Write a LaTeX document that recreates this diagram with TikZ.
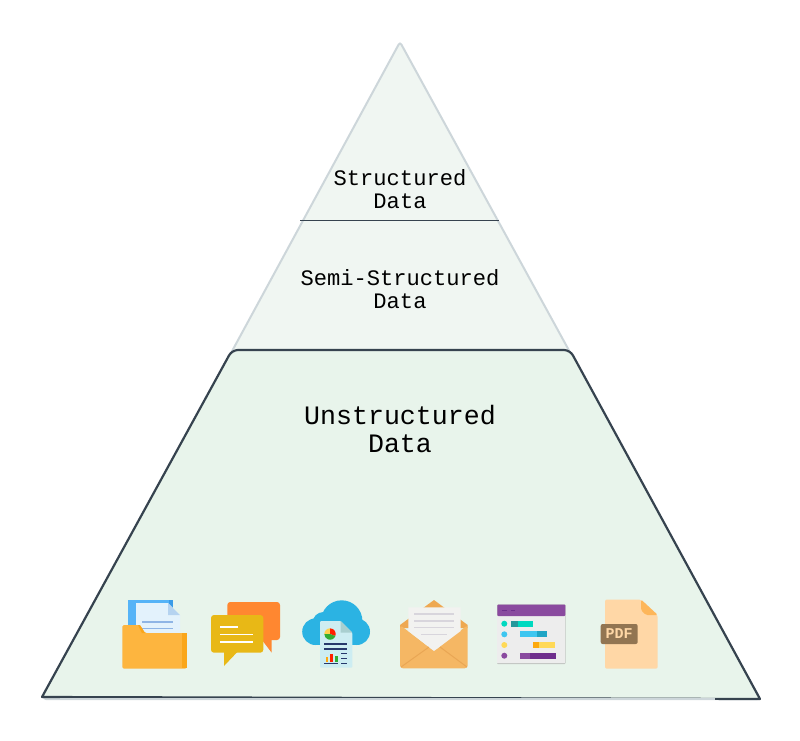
\documentclass[tikz,border=0pt]{standalone}
\usepackage{fontspec}
\setmonofont{Liberation Mono}
\definecolor{upperfill}{HTML}{F0F6F2}
\definecolor{upperline}{HTML}{CDD6DA}
\definecolor{lowerfill}{HTML}{E8F4EB}
\definecolor{lowerline}{HTML}{36434F}
\definecolor{folderblue}{HTML}{55B3F7}
\definecolor{folderedge}{HTML}{3A9BE8}
\definecolor{folderpage}{HTML}{E3F2FC}
\definecolor{foldercrease}{HTML}{B5D3F0}
\definecolor{folderline}{HTML}{8FB5E5}
\definecolor{folderfront}{HTML}{FDB53F}
\definecolor{folderdark}{HTML}{FAA61A}
\definecolor{chatorange}{HTML}{FF8730}
\definecolor{chatyellow}{HTML}{E8B816}
\definecolor{cloudblue}{HTML}{2BB3E3}
\definecolor{reportpage}{HTML}{CDEDF2}
\definecolor{reportfold}{HTML}{A9CFD0}
\definecolor{reportnavy}{HTML}{26386B}
\definecolor{mailbody}{HTML}{F5B764}
\definecolor{mailback}{HTML}{EEA851}
\definecolor{mailcrease}{HTML}{E9A654}
\definecolor{mailpage}{HTML}{F2F2F0}
\definecolor{mailline}{HTML}{D8D5DC}
\definecolor{ganttgrey}{HTML}{EDEDED}
\definecolor{ganttedge}{HTML}{C4C7C4}
\definecolor{ganttpurple}{HTML}{8A4A9F}
\definecolor{ganttplum}{HTML}{6E2E8C}
\definecolor{ganttteal}{HTML}{00D9C0}
\definecolor{ganttsea}{HTML}{25989B}
\definecolor{gantsky}{HTML}{3EC6F0}
\definecolor{ganttblue}{HTML}{20A5C5}
\definecolor{ganttsun}{HTML}{FFD957}
\definecolor{ganttamber}{HTML}{FDA90D}
\definecolor{pdfpage}{HTML}{FFD7A6}
\definecolor{pdffold}{HTML}{FDB65A}
\definecolor{pdfbadge}{HTML}{927552}
\tikzstyle{tiersmall}=[inner sep=0, align=center, font=\ttfamily\fontsize{22.1}{23.5}\selectfont]
\tikzstyle{tierlarge}=[inner sep=0, align=center, font=\ttfamily\fontsize{26.6}{27.5}\selectfont]
\tikzstyle{upperedge}=[draw=upperline, fill=upperfill, line width=2pt, rounded corners=3pt]
\tikzstyle{loweredge}=[draw=lowerline, fill=lowerfill, line width=2.2pt, line join=round]
\begin{document}
\begin{tikzpicture}[x=1pt, y=-1pt]
	\useasboundingbox (0, 0) rectangle (800, 740);
	\begin{scope}
		\coordinate (apex) at (400, 42);
		\coordinate (baseleft) at (43, 699);
		\coordinate (baseright) at (760, 699);
		\coordinate (midleft) at (300, 220);
		\coordinate (midright) at (499, 220);
		\coordinate (topleft) at (232, 350);
		\coordinate (topright) at (570, 350);
	\end{scope}
	\begin{scope}
		\path [upperedge] (baseleft) -- (apex) -- (baseright) -- cycle;
		\path [loweredge] (42, 697) [rounded corners=6pt] -- (topleft) -- (topright) [sharp corners] -- (760, 699) -- cycle;
		\path [draw=lowerline, line width=1pt] (midleft) -- (midright);
		\draw [upperline, line width=1.5pt] (60, 699) -- (715, 699);
		\draw [lowerline, line width=2pt] (715, 699) -- (760, 699);
	\end{scope}
	\begin{scope}
		\node (structured) at (400, 189)[tiersmall] {Structured\\Data};
		\node (semi) at (400, 289)[tiersmall] {Semi-Structured\\Data};
		\node (unstructured) at (400, 429)[tierlarge] {Unstructured\\Data};
	\end{scope}
	% folder
	\begin{scope}
		\fill [folderblue] (128, 600) rectangle (173, 628);
		\fill [folderedge] (169, 600) rectangle (173, 628);
		\fill [folderpage] (136, 603) -- (168, 603) -- (180, 615) -- (180, 634) -- (136, 634) -- cycle;
		\fill [foldercrease] (168, 603) -- (180, 615) -- (168, 615) -- cycle;
		\foreach \y in {621.7, 628.3} \fill [folderline] (142, \y-0.8) rectangle (173, \y+0.8);
		\fill [folderfront, rounded corners=1.5pt] (122.3, 625) -- (140, 625) -- (145, 633) -- (186.7, 633) -- (186.7, 668.7) -- (122.3, 668.7) -- cycle;
		\fill [folderdark] (181.7, 633) rectangle (186.7, 668);
		\fill [folderdark] (138, 625) -- (140, 625) -- (145, 633) -- (142, 633) -- cycle;
	\end{scope}
	% speech bubbles
	\begin{scope}
		\fill [chatorange, rounded corners=3pt] (227.3, 602) rectangle (280, 640);
		\fill [chatorange] (262, 640) -- (271.7, 640) -- (271.7, 652.7) -- cycle;
		\fill [chatyellow, rounded corners=3pt] (211, 615) rectangle (263.3, 652.7);
		\fill [chatyellow] (224, 652) -- (224, 666) -- (237.3, 652) -- cycle;
		\fill [white] (220, 626.2) rectangle (237.7, 627.8);
		\foreach \y in {634.3, 641.7} \fill [white] (220, \y-0.8) rectangle (253.3, \y+0.8);
	\end{scope}
	% cloud report
	\begin{scope}
		\fill [cloudblue] (341.7, 621) circle (20.7);
		\fill [cloudblue] (323.5, 623) circle (11);
		\fill [cloudblue] (315.5, 631.7) circle (13.3);
		\fill [cloudblue] (356.7, 631.7) circle (13.3);
		\fill [cloudblue] (316, 625) rectangle (356, 645);
		\fill [reportpage, rounded corners=1pt] (320, 621) -- (340.7, 621) -- (352.3, 632.7) -- (352.3, 667.7) -- (320, 667.7) -- cycle;
		\fill [reportfold] (340.7, 621) -- (352.3, 632.7) -- (340.7, 632.7) -- cycle;
		\fill [ganttsun!90!orange] (330, 634) -- (324.3, 634) arc [start angle=180, end angle=270, radius=5.7] -- cycle;
		\fill [red!75!orange] (330, 634) -- (330, 628.3) arc [start angle=270, end angle=380, radius=5.7] -- cycle;
		\fill [green!60!black!80] (330, 634) -- (335.4, 636) arc [start angle=20, end angle=180, radius=5.7] -- cycle;
		\foreach \y in {644, 649} \fill [reportnavy] (324.3, \y-0.8) rectangle (347.3, \y+0.8);
		\foreach \y in {653.3, 658.3, 663.3} \fill [reportnavy] (341, \y-0.8) rectangle (347.3, \y+0.8);
		\fill [ganttamber] (325.5, 657) rectangle (328, 662);
		\fill [red!75!orange] (330, 653.5) rectangle (332.5, 662);
		\fill [green!60!black!80] (335, 656) rectangle (337.5, 662);
		\fill [reportnavy] (324.3, 662.5) rectangle (338.3, 664);
	\end{scope}
	% envelope
	\begin{scope}
		\fill [mailback] (400, 628) -- (400, 625) -- (434, 600) -- (467.7, 625) -- (467.7, 628) -- cycle;
		\fill [mailbody, rounded corners=3pt] (400, 625) -- (434, 651) -- (467.7, 625) -- (467.7, 668.3) -- (400, 668.3) -- cycle;
		\fill [mailpage] (408.3, 607.3) -- (460.7, 607.3) -- (460.7, 631) -- (434, 651) -- (408.3, 631) -- cycle;
		\draw [mailcrease, line width=1pt] (401, 667) -- (429, 647);
		\draw [mailcrease, line width=1pt] (467, 667) -- (440, 647);
		\foreach \y in {614, 621, 627.7} \fill [mailline] (414, \y-0.6) rectangle (454, \y+0.6);
		\fill [mailline] (420.7, 633.7) rectangle (447.3, 634.9);
	\end{scope}
	% gantt window
	\begin{scope}
		\fill [ganttedge, rounded corners=1pt] (497, 604.3) rectangle (565.7, 664);
		\fill [ganttgrey] (497.3, 616) rectangle (565.3, 663);
		\fill [ganttpurple, rounded corners=1pt] (497.3, 604.5) rectangle (565.3, 616);
		\foreach \x in {502.3, 510.7} \fill [ganttplum] (\x, 609.6) rectangle (\x+4.4, 610.6);
		\fill [ganttteal] (504.3, 623.7) circle (3);
		\fill [gantsky] (504.3, 634.3) circle (3);
		\fill [ganttsun] (504.3, 645) circle (3);
		\fill [ganttpurple] (504.3, 655.7) circle (3);
		\fill [ganttteal] (511.3, 620.7) rectangle (533.3, 626.7);
		\fill [ganttsea] (511.3, 620.7) rectangle (518.3, 626.7);
		\fill [gantsky] (520, 631.3) rectangle (546.7, 637.3);
		\fill [ganttblue] (537.3, 631.3) rectangle (546.7, 637.3);
		\fill [ganttsun] (533.3, 642) rectangle (555, 648);
		\fill [ganttamber] (533.3, 642) rectangle (539, 648);
		\fill [ganttpurple] (520, 652.7) rectangle (555.7, 658.7);
		\fill [ganttplum] (530, 652.7) rectangle (555.7, 658.7);
	\end{scope}
	% pdf file
	\begin{scope}
		\fill [pdfpage, rounded corners=2pt] (605, 599.5) -- (641, 599.5) -- (657.7, 615) -- (657.7, 668.7) -- (605, 668.7) -- cycle;
		\fill [pdffold, rounded corners=1.5pt] (641, 599.5) -- (657.7, 615) -- (646, 615) -- (641, 610) -- cycle;
		\fill [pdfbadge, rounded corners=2pt] (600.7, 624) rectangle (637.7, 644);
		\node (pdflabel) at (619.2, 634)[inner sep=0, text=pdfpage, font=\ttfamily\bfseries\fontsize{15}{15}\selectfont] {PDF};
	\end{scope}
\end{tikzpicture}
\end{document}
